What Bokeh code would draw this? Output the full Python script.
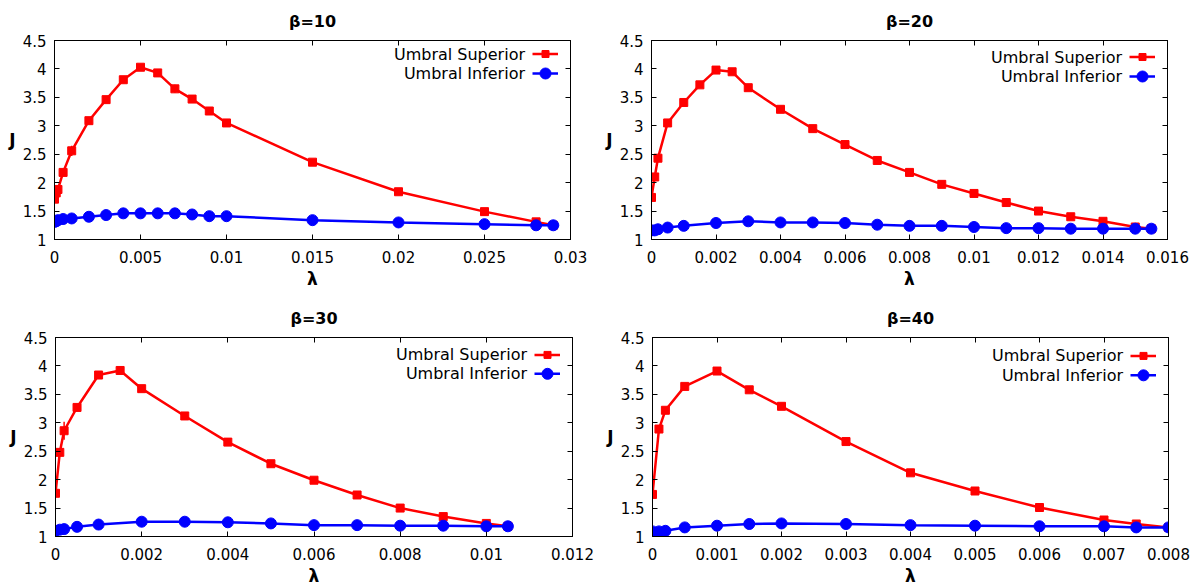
from bokeh.plotting import figure
from bokeh.layouts import column, row
from bokeh.models import Range1d, FixedTicker, LinearAxis, CustomJSTickFormatter
from bokeh.core.properties import value
from bokeh.embed import file_html
from bokeh.resources import INLINE

# ---------------- data ----------------
series_names = ["Umbral Superior", "Umbral Inferior"]
titles = ["β=10", "β=20", "β=30", "β=40"]

y_ticks = [1, 1.5, 2, 2.5, 3, 3.5, 4, 4.5]
y_labels = ["1", "1.5", "2", "2.5", "3", "3.5", "4", "4.5"]

x10_ticks = [0, 0.005, 0.01, 0.015, 0.02, 0.025, 0.03]
x10_labels = ["0", "0.005", "0.01", "0.015", "0.02", "0.025", "0.03"]
x20_ticks = [0, 0.002, 0.004, 0.006, 0.008, 0.01, 0.012, 0.014, 0.016]
x20_labels = ["0", "0.002", "0.004", "0.006", "0.008", "0.01", "0.012", "0.014", "0.016"]
x30_ticks = [0, 0.002, 0.004, 0.006, 0.008, 0.01, 0.012]
x30_labels = ["0", "0.002", "0.004", "0.006", "0.008", "0.01", "0.012"]
x40_ticks = [0, 0.001, 0.002, 0.003, 0.004, 0.005, 0.006, 0.007, 0.008]
x40_labels = ["0", "0.001", "0.002", "0.003", "0.004", "0.005", "0.006", "0.007", "0.008"]

# beta = 10
lam10 = [0, 0.0001, 0.0002, 0.0005, 0.001, 0.002, 0.003, 0.004, 0.005, 0.006,
         0.007, 0.008, 0.009, 0.01, 0.015, 0.02, 0.025, 0.028, 0.029]
J10_sup = [1.71, 1.82, 1.88, 2.18, 2.56, 3.09, 3.46, 3.81, 4.03, 3.93,
           3.65, 3.47, 3.26, 3.05, 2.36, 1.84, 1.49, 1.31, 1.25]
E10_sup = [0, 0, 0.05, 0.05, 0.09, 0.04, 0, 0, 0, 0,
           0.07, 0, 0, 0, 0, 0, 0, 0, 0]
J10_inf = [1.31, 1.32, 1.34, 1.36, 1.37, 1.40, 1.43, 1.46, 1.46, 1.46,
           1.46, 1.44, 1.41, 1.41, 1.34, 1.30, 1.27, 1.25, 1.25]

# beta = 20
lam20_sup = [0, 0.0001, 0.0002, 0.0005, 0.001, 0.0015, 0.002, 0.0025, 0.003, 0.004, 0.005,
             0.006, 0.007, 0.008, 0.009, 0.01, 0.011, 0.012, 0.013, 0.014, 0.015, 0.0155]
J20_sup = [1.74, 2.10, 2.43, 3.05, 3.41, 3.72, 3.98, 3.95, 3.67, 3.29, 2.95,
           2.67, 2.39, 2.18, 1.97, 1.81, 1.65, 1.50, 1.40, 1.32, 1.22, 1.19]
E20_sup = [0, 0, 0.03, 0.05, 0.03, 0, 0, 0, 0, 0, 0,
           0, 0, 0, 0, 0, 0, 0, 0, 0, 0, 0]
lam20_inf = [0, 0.0001, 0.0002, 0.0005, 0.001, 0.002, 0.003, 0.004, 0.005, 0.006,
             0.007, 0.008, 0.009, 0.01, 0.011, 0.012, 0.013, 0.014, 0.015, 0.0155]
J20_inf = [1.16, 1.16, 1.18, 1.21, 1.24, 1.29, 1.32, 1.30, 1.30, 1.29,
           1.26, 1.24, 1.24, 1.22, 1.20, 1.20, 1.19, 1.19, 1.19, 1.19]

# beta = 30
lam30_sup = [0, 0.0001, 0.0002, 0.0005, 0.001, 0.0015, 0.002, 0.003, 0.004, 0.005,
             0.006, 0.007, 0.008, 0.009, 0.01, 0.0105]
J30_sup = [1.76, 2.48, 2.86, 3.27, 3.84, 3.92, 3.60, 3.12, 2.66, 2.28,
           1.99, 1.73, 1.50, 1.35, 1.23, 1.18]
E30_sup = [0, 0.05, 0.16, 0.03, 0, 0, 0, 0, 0, 0,
           0, 0, 0, 0, 0, 0]
lam30_inf = [0, 0.0001, 0.0002, 0.0005, 0.001, 0.002, 0.003, 0.004, 0.005,
             0.006, 0.007, 0.008, 0.009, 0.01, 0.0105]
J30_inf = [1.10, 1.12, 1.13, 1.17, 1.21, 1.26, 1.26, 1.25, 1.23,
           1.20, 1.20, 1.19, 1.19, 1.18, 1.18]

# beta = 40
lam40 = [0, 0.0001, 0.0002, 0.0005, 0.001, 0.0015, 0.002, 0.003, 0.004, 0.005,
         0.006, 0.007, 0.0075, 0.008]
J40_sup = [1.74, 2.89, 3.22, 3.64, 3.91, 3.58, 3.29, 2.67, 2.12, 1.80,
           1.51, 1.29, 1.22, 1.16]
E40_sup = [0, 0.03, 0.03, 0, 0, 0, 0, 0, 0, 0,
           0, 0, 0, 0]
J40_inf = [1.09, 1.09, 1.10, 1.16, 1.19, 1.22, 1.23, 1.22, 1.20, 1.19,
           1.18, 1.18, 1.16, 1.16]

# ---------------- styling ----------------
FONT = "DejaVu Sans"
RED = "#ff0000"
BLUE = "#0000ff"
W, H = 602, 294
YMIN, YMAX = 1, 4.5


def mirror_axis(ticks):
    return LinearAxis(ticker=FixedTicker(ticks=ticks),
                      formatter=CustomJSTickFormatter(code="return '';"),
                      major_tick_in=5, major_tick_out=0, minor_tick_line_color=None,
                      major_label_standoff=0, axis_line_color="black",
                      major_tick_line_color="black")


def make_panel(title, lam_s, J_s, E_s, lam_i, J_i, xticks, xlabels, borders, leg_rows):
    left, right, top, bottom = borders
    fw = W - left - right
    fh = H - top - bottom
    xmax = xticks[-1]
    p = figure(width=W, height=H, output_backend="svg", toolbar_location=None,
               x_range=Range1d(0, xmax), y_range=Range1d(YMIN, YMAX),
               min_border=0, min_border_left=left, min_border_right=right,
               min_border_top=top, min_border_bottom=bottom)
    p.background_fill_color = "white"
    p.border_fill_color = "white"
    p.grid.visible = False
    p.outline_line_color = "black"
    p.outline_line_width = 1

    p.title.text = title
    p.title.align = "center"
    p.title.text_font = FONT
    p.title.text_font_size = "16px"
    p.title.text_font_style = "bold"
    p.title.text_color = "black"
    p.title.standoff = 19

    xa = p.below[0]
    ya = p.left[0]
    xa.ticker = FixedTicker(ticks=xticks)
    xa.major_label_overrides = {t: l for t, l in zip(xticks, xlabels)}
    ya.ticker = FixedTicker(ticks=y_ticks)
    ya.major_label_overrides = {t: l for t, l in zip(y_ticks, y_labels)}
    for ax in (xa, ya):
        ax.major_tick_in = 5
        ax.major_tick_out = 0
        ax.minor_tick_line_color = None
        ax.axis_line_color = "black"
        ax.major_tick_line_color = "black"
        ax.major_label_text_font = FONT
        ax.major_label_text_font_size = "15px"
        ax.major_label_text_color = "black"
        ax.axis_label_text_font = FONT
        ax.axis_label_text_font_size = "17px"
        ax.axis_label_text_font_style = "bold"
        ax.axis_label_text_color = "black"
    xa.major_label_standoff = 11
    ya.major_label_standoff = 8
    xa.axis_label = "λ"
    xa.axis_label_standoff = 3
    ya.axis_label = "J"
    ya.axis_label_standoff = 4
    if hasattr(ya, "axis_label_orientation"):
        ya.axis_label_orientation = "horizontal"

    # mirror ticks on the right and top
    p.add_layout(mirror_axis(y_ticks), "right")
    p.add_layout(mirror_axis(xticks), "above")

    # superior (red)
    p.line(lam_s, J_s, line_color=RED, line_width=2.5)
    el = [l for l, e in zip(lam_s, E_s) if e > 0]
    ej = [j for j, e in zip(J_s, E_s) if e > 0]
    ee = [e for e in E_s if e > 0]
    if el:
        p.segment(x0=el, y0=[j - e for j, e in zip(ej, ee)], x1=el,
                  y1=[j + e for j, e in zip(ej, ee)], line_color=RED, line_width=1.5)
    p.scatter(lam_s, J_s, marker="square", size=8, fill_color=RED, line_color=RED)
    # inferior (blue)
    p.line(lam_i, J_i, line_color=BLUE, line_width=2.5)
    p.scatter(lam_i, J_i, marker="circle", size=11, fill_color=BLUE, line_color=BLUE)

    # legend (text left of sample, gnuplot style), placed relative to frame corner
    dxp = xmax / fw
    dyp = (YMAX - YMIN) / fh
    ys = [YMAX - r * dyp for r in leg_rows]
    p.text(x=[xmax - 45.5 * dxp] * 2, y=ys, text=series_names,
           text_font=value(FONT), text_font_size="16px", text_color="black",
           text_align="right", text_baseline="middle")
    for yy, col, mk, sz in zip(ys, [RED, BLUE], ["square", "circle"], [7, 11]):
        p.segment(x0=[xmax - 38 * dxp], y0=[yy], x1=[xmax - 12.5 * dxp], y1=[yy],
                  line_color=col, line_width=2.5)
        p.scatter([xmax - 25 * dxp], [yy], marker=mk, size=sz, fill_color=col, line_color=col)
    return p


p1 = make_panel(titles[0], lam10, J10_sup, E10_sup, lam10, J10_inf, x10_ticks, x10_labels,
                (54, 32, 40, 55), (13.5, 33))
p2 = make_panel(titles[1], lam20_sup, J20_sup, E20_sup, lam20_inf, J20_inf, x20_ticks, x20_labels,
                (49, 37, 40, 55), (16.5, 36))
p3 = make_panel(titles[2], lam30_sup, J30_sup, E30_sup, lam30_inf, J30_inf, x30_ticks, x30_labels,
                (55, 30, 43, 51), (17.5, 36.5))
p4 = make_panel(titles[3], lam40, J40_sup, E40_sup, lam40, J40_inf, x40_ticks, x40_labels,
                (50, 36, 43, 51), (18.5, 38))

p = column(row(p1, p2, spacing=0), row(p3, p4, spacing=0), spacing=0)
open("out.html", "w").write(file_html(p, INLINE))
